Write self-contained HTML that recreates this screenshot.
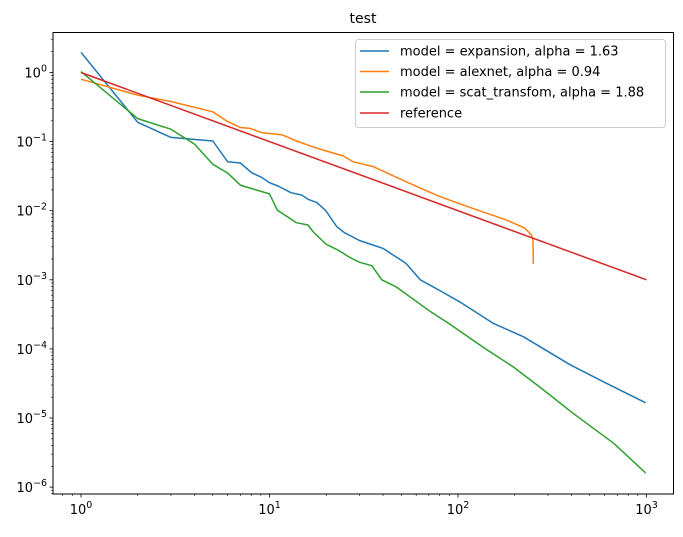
<!DOCTYPE html>
<html><head><meta charset="utf-8"><style>
body{margin:0;background:#fff}
svg text{font-family:"DejaVu Sans","Liberation Sans",sans-serif;fill:#000}
</style></head><body>
<svg id="chart" width="683" height="532" xmlns="http://www.w3.org/2000/svg">
<text x="363" y="23" font-size="14" text-anchor="middle">test</text>
<g id="plot"></g>
<rect x="53" y="32.5" width="620.5" height="461.5" fill="none" stroke="#000" stroke-width="1"/>
<g>
<rect x="355.5" y="39.5" width="310" height="88" rx="3" fill="#fff" fill-opacity="0.8" stroke="#ccc"/>
<line x1="360" y1="51" x2="389" y2="51" stroke="#1f77b4" stroke-width="1.5"/>
<text x="400" y="55.5" font-size="13">model = expansion, alpha = 1.63</text>
<line x1="360" y1="71.5" x2="389" y2="71.5" stroke="#ff7f0e" stroke-width="1.5"/>
<text x="400" y="76" font-size="13">model = alexnet, alpha = 0.94</text>
<line x1="360" y1="92" x2="389" y2="92" stroke="#2ca02c" stroke-width="1.5"/>
<text x="400" y="96.5" font-size="13">model = scat_transfom, alpha = 1.88</text>
<line x1="360" y1="113" x2="389" y2="113" stroke="#d62728" stroke-width="1.5"/>
<text x="400" y="117.5" font-size="13">reference</text>
</g>
</svg>
<script>
const expX=[1,2,3,5,6,7,8.05,9.07,10,11.1,13,14.8,16,17.8,19.9,22.7,25,30,40,53,63,80,102,154,222,393,610,990];
const expY=[1.96,0.19,0.115,0.102,0.051,0.049,0.0355,0.0304,0.0254,0.0228,0.0182,0.0169,0.0146,0.0132,0.01,0.0059,0.0048,0.0037,0.00285,0.00173,0.001,7e-4,4.8e-4,2.34e-4,1.5e-4,5.9e-5,3.2e-5,1.66e-5];
const alexX=[1,2,3,5,5.9,7,7.9,9.1,11.7,13.9,17,20,24.6,27.8,35.5,53,80,120,181,226,245,250,251];
const alexY=[0.8,0.47,0.38,0.27,0.2,0.16,0.155,0.135,0.125,0.102,0.084,0.073,0.062,0.051,0.0434,0.0263,0.016,0.0108,0.0073,0.0056,0.0045,0.0038,0.0017];
const scatX=[1,2,3,4,5,6,7,10,11,13.9,16,17,19.9,23.6,26.7,30,34.9,39.4,47,71,90,135,196,272,408,670,990];
const scatY=[1.03,0.215,0.151,0.092,0.047,0.035,0.0235,0.0175,0.0102,0.0067,0.0062,0.005,0.0033,0.0026,0.0021,0.0018,0.0016,0.001,7.9e-4,3.5e-4,2.3e-4,1.07e-4,5.5e-5,2.8e-5,1.17e-5,4.3e-6,1.6e-6];
const refX=[1,1000];
const refY=[1,0.001];
const xTickExp=[0,1,2,3];
const yTickExp=[0,-1,-2,-3,-4,-5,-6];
function sx(v){return 81+188.5*Math.log10(v);}
function sy(v){return 72.5-69.1*Math.log10(v);}
const NS="http://www.w3.org/2000/svg";
const g=document.getElementById('plot');
function mk(t,a){const e=document.createElementNS(NS,t);for(const k in a)e.setAttribute(k,a[k]);return e;}
function label(t,e){const b=mk('tspan',{});b.textContent='10';const s=mk('tspan',{dy:'-6','font-size':'9.5'});s.textContent=String(e).replace('-','−');t.appendChild(b);t.appendChild(s);}
const L=53,R=673.5,T=32.5,B=494;
for(let d=-1;d<=3;d++){for(let m=1;m<10;m++){const v=m*Math.pow(10,d);const x=sx(v);if(x<L||x>R)continue;
 const major=m===1;const tk=mk('line',{x1:x,y1:B,x2:x,y2:B+(major?3.5:2),stroke:'#000','stroke-width':major?0.8:0.6});
 
 
 g.appendChild(tk);}}
xTickExp.forEach(e=>{const t=mk('text',{x:sx(Math.pow(10,e)),y:B+20,'font-size':'13','text-anchor':'middle'});label(t,e);
 
 
 g.appendChild(t);});
for(let d=-7;d<=0;d++){for(let m=1;m<10;m++){const v=m*Math.pow(10,d);const y=sy(v);if(y<T||y>B)continue;
 const major=m===1;const tk=mk('line',{x1:L,y1:y,x2:L-(major?3.5:2),y2:y,stroke:'#000','stroke-width':major?0.8:0.6});
 
 
 g.appendChild(tk);}}
yTickExp.forEach(e=>{const t=mk('text',{x:L-6,y:sy(Math.pow(10,e))+5,'font-size':'13','text-anchor':'end'});label(t,e);
 
 
 g.appendChild(t);});
function line(xs,ys,c,name){const p=mk('polyline',{points:xs.map((x,i)=>sx(x).toFixed(1)+','+sy(ys[i]).toFixed(1)).join(' '),fill:'none',stroke:c,'stroke-width':1.5,'stroke-linejoin':'round'});
 
 
 g.appendChild(p);}
line(expX,expY,'#1f77b4','series-expansion');
line(alexX,alexY,'#ff7f0e','series-alexnet');
line(scatX,scatY,'#2ca02c','series-scat-transfom');
line(refX,refY,'#d62728','series-reference');
</script>
</body></html>
